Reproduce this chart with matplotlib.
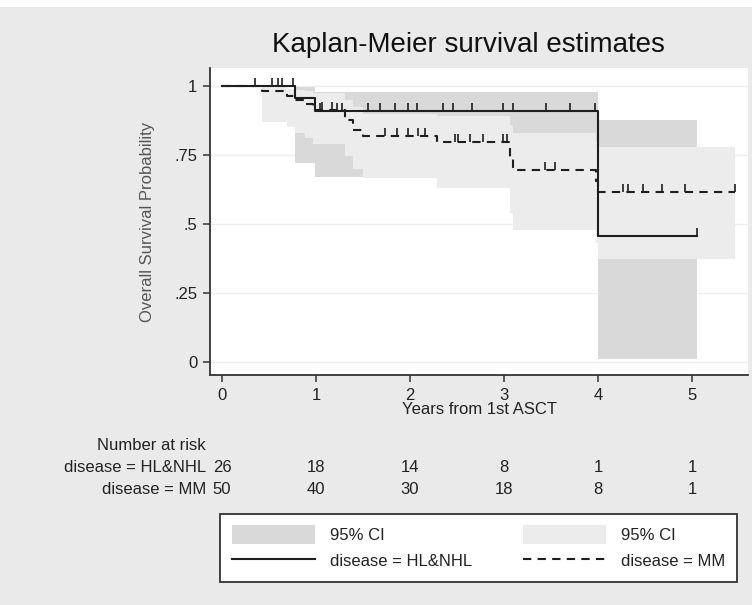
import numpy as np
import matplotlib
matplotlib.use("Agg")
import matplotlib.pyplot as plt
from matplotlib.patches import Patch, Rectangle
from matplotlib.lines import Line2D

plt.rcParams['font.family'] = ['Liberation Sans', 'DejaVu Sans']

# HL&NHL group: step times, survival, 95% CI
hl_t = [0, 0.78, 0.99, 4.0, 5.05]
hl_s = [1.0, 0.955, 0.909, 0.455, 0.455]
hl_lo = [1.0, 0.72, 0.67, 0.01, 0.01]
hl_hi = [1.0, 0.995, 0.978, 0.877, 0.877]
hl_cens = [0.35, 0.53, 0.60, 0.64, 0.75, 1.04, 1.22, 1.28, 1.55, 1.68, 1.84,
           1.98, 2.07, 2.35, 2.46, 2.66, 2.99, 3.10, 3.45, 3.70, 3.97, 5.05]

# MM group
mm_t = [0, 0.42, 0.69, 0.78, 0.88, 0.97, 1.31, 1.39, 1.50, 2.29, 3.06, 3.10, 3.98, 4.0, 5.46]
mm_s = [1.0, 0.98, 0.965, 0.95, 0.935, 0.913, 0.877, 0.84, 0.82, 0.797, 0.743, 0.696, 0.656, 0.616, 0.616]
mm_lo = [1.0, 0.87, 0.85, 0.83, 0.81, 0.79, 0.745, 0.70, 0.665, 0.63, 0.54, 0.48, 0.43, 0.373, 0.373]
mm_hi = [1.0, 0.997, 0.99, 0.985, 0.98, 0.975, 0.95, 0.925, 0.90, 0.89, 0.86, 0.83, 0.80, 0.78, 0.78]
mm_cens = [1.06, 1.17, 1.73, 1.86, 1.98, 2.08, 2.16, 2.48, 2.51, 2.64, 2.78, 2.99, 3.03,
           3.44, 3.54, 4.27, 4.32, 4.48, 4.68, 4.93, 5.46]

# number at risk
risk_times = [0, 1, 2, 3, 4, 5]
risk_hl = [26, 18, 14, 8, 1, 1]
risk_mm = [50, 40, 30, 18, 8, 1]

yticks = [0, 0.25, 0.5, 0.75, 1]
yticklabels = ['0', '.25', '.5', '.75', '1']

dark_ci = '#d9d9d9'
light_ci = '#ececec'
line_c = '#1e1e1e'
bg = '#eaeaea'


def surv_at(times, surv, x):
    idx = np.searchsorted(times, x, side='right') - 1
    return np.array(surv)[idx]


fig = plt.figure(figsize=(7.52, 6.05), dpi=100)
fig.patch.set_facecolor(bg)
fig.add_artist(Rectangle((0, 1 - 7 / 605), 1, 7 / 605, transform=fig.transFigure,
                         facecolor='white', edgecolor='none'))

ax = fig.add_axes([210 / 752, 1 - 375 / 605, 538 / 752, 307 / 605])
ax.set_facecolor('white')

ax.fill_between(hl_t, hl_lo, hl_hi, step='post', color=dark_ci, lw=0)
ax.fill_between(mm_t, mm_lo, mm_hi, step='post', color=light_ci, lw=0)

ax.step(hl_t, hl_s, where='post', color=line_c, lw=1.5)
ax.step(mm_t, mm_s, where='post', color=line_c, lw=1.5, ls=(0, (4, 3)))

ax.plot(hl_cens, surv_at(hl_t, hl_s, hl_cens), ls='none', marker=2, ms=6,
        mew=1.2, color=line_c)
ax.plot(mm_cens, surv_at(mm_t, mm_s, mm_cens), ls='none', marker=2, ms=6,
        mew=1.2, color=line_c)

ax.set_xlim(-0.128, 5.596)
ax.set_ylim(-0.047, 1.065)
ax.set_xticks(risk_times)
ax.set_yticks(yticks)
ax.set_yticklabels(yticklabels)
ax.yaxis.grid(True, color='#eeeeee', lw=1)
ax.set_axisbelow(True)
for s in ['top', 'right']:
    ax.spines[s].set_visible(False)
for s in ['left', 'bottom']:
    ax.spines[s].set_color('#333333')
    ax.spines[s].set_linewidth(1.3)
ax.tick_params(direction='out', length=5, width=1.1, color='#333333',
               labelsize=12, labelcolor='#222222', pad=4)

ax.set_xlabel('Years from 1st ASCT', fontsize=12, color='#222222', labelpad=0)
ax.set_ylabel('Overall Survival Probability', fontsize=12, color='#555555', labelpad=14)
fig.text(468 / 752, 1 - 45 / 605, 'Kaplan-Meier survival estimates', ha='center',
         va='center', fontsize=20, color='#111111')

# number at risk table
tr = ax.get_xaxis_transform()
fig.text(206 / 752, 1 - 445 / 605, 'Number at risk', ha='right', va='center',
         fontsize=12, color='#222222')
fig.text(206 / 752, 1 - 468 / 605, 'disease = HL&NHL', ha='right', va='center',
         fontsize=12, color='#222222')
fig.text(206 / 752, 1 - 490 / 605, 'disease = MM', ha='right', va='center',
         fontsize=12, color='#222222')
y_hl = (1 - 468 / 605 - ax.get_position().y0) / ax.get_position().height
y_mm = (1 - 490 / 605 - ax.get_position().y0) / ax.get_position().height
for t, a, b in zip(risk_times, risk_hl, risk_mm):
    ax.text(t, y_hl, str(a), transform=tr, ha='center', va='center',
            fontsize=12, color='#222222', clip_on=False)
    ax.text(t, y_mm, str(b), transform=tr, ha='center', va='center',
            fontsize=12, color='#222222', clip_on=False)

handles = [Patch(facecolor=dark_ci, edgecolor='none'),
           Line2D([], [], color=line_c, lw=1.5),
           Patch(facecolor=light_ci, edgecolor='none'),
           Line2D([], [], color=line_c, lw=1.5, ls=(0, (4, 3)))]
labels = ['95% CI', 'disease = HL&NHL', '95% CI', 'disease = MM']
leg = fig.legend(handles, labels, loc='lower left', ncol=2, mode='expand',
                 bbox_to_anchor=(220 / 752, 1 - 582 / 605, 517 / 752, 68 / 605),
                 borderaxespad=0,
                 fontsize=12, handlelength=5, handleheight=1.4, handletextpad=0.9,
                 fancybox=False, edgecolor='#333333', framealpha=1,
                 borderpad=0.7, labelspacing=0.4)
leg.get_frame().set_linewidth(1.3)
for txt in leg.get_texts():
    txt.set_color('#222222')

fig.savefig('out.png', dpi=100, facecolor=fig.get_facecolor())
